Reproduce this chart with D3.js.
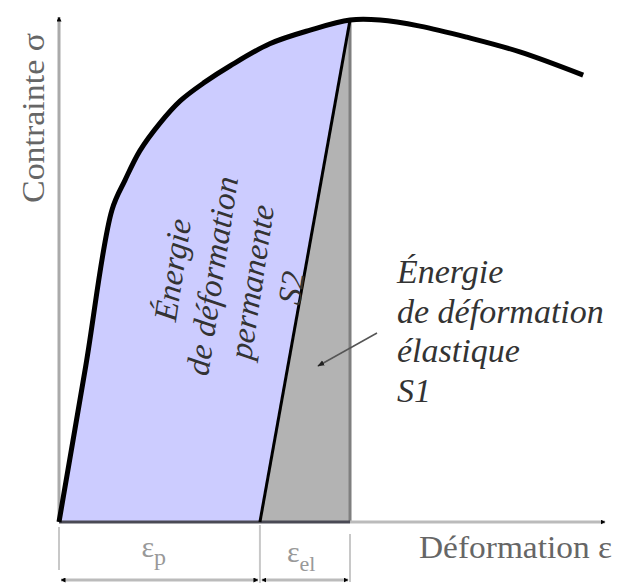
<!DOCTYPE html>
<html><head><meta charset="utf-8">
<script src="https://cdn.jsdelivr.net/npm/d3@7"></script>
<style>html,body{margin:0;padding:0;background:#fff;}svg{display:block;}</style>
</head><body>
<svg id="chart" width="633" height="587"></svg>
<script>
// ---- data (strain / stress, arbitrary units) ----
const strain = [0, 0.49, 0.97, 1.21, 1.48, 1.85, 2.22, 2.67, 3.13, 3.86, 4.60, 5.33, 5.88, 6.61, 7.47, 8.44, 9.60];
const stress = [0, 3.09, 6.18, 6.77, 7.35, 7.90, 8.34, 8.71, 9.03, 9.47, 9.74, 9.94, 9.94, 9.82, 9.60, 9.31, 8.85];
const unloadIndex = 11;          // point where unloading starts
const residualStrain = 3.68;     // εp (permanent strain)
const axisMax = [10, 10];
const plasticLabel = ["Énergie", "de déformation", "permanente", "S2"];
const elasticLabel = ["Énergie", "de déformation", "élastique", "S1"];
const xTitle = "Déformation ε";
const yTitle = "Contrainte σ";

const svg = d3.select("#chart");
const x = d3.scaleLinear().domain([0, axisMax[0]]).range([59, 605]);
const y = d3.scaleLinear().domain([0, axisMax[1]]).range([522, 17]);

const pts = strain.map((s, i) => [s, stress[i]]);
const loadPts = pts.slice(0, unloadIndex + 1);
const peak = pts[unloadIndex];

const defs = svg.append("defs");
function marker(id, orient) {
  defs.append("marker").attr("id", id).attr("viewBox", "0 0 10 10")
    .attr("refX", 9).attr("refY", 5).attr("markerWidth", 5).attr("markerHeight", 5)
    .attr("markerUnits", "userSpaceOnUse").attr("orient", orient)
    .append("path").attr("d", "M0,0L10,5L0,10z").attr("fill", "#000");
}
marker("arr", "auto");
marker("arr2", "auto-start-reverse");
defs.append("marker").attr("id", "arrS").attr("viewBox", "0 0 10 10")
  .attr("refX", 9).attr("refY", 5).attr("markerWidth", 7).attr("markerHeight", 7)
  .attr("markerUnits", "userSpaceOnUse").attr("orient", "auto")
  .append("path").attr("d", "M0,1L10,5L0,9z").attr("fill", "#222");

const line = d3.line().x(d => x(d[0])).y(d => y(d[1])).curve(d3.curveCatmullRom.alpha(0.5));

// plastic energy area (blue)
svg.append("path")
  .attr("d", line(loadPts) + `L${x(residualStrain)},${y(0)}L${x(0)},${y(0)}Z`)
  .attr("fill", "#ccccff").attr("stroke", "none");

// elastic energy triangle (gray)
svg.append("path")
  .attr("d", d3.line()([[x(residualStrain), y(0)], [x(peak[0]), y(peak[1])], [x(peak[0]), y(0)]]) + "Z")
  .attr("fill", "#b3b3b3");
svg.append("line").attr("x1", x(peak[0])).attr("x2", x(peak[0]))
  .attr("y1", y(peak[1])).attr("y2", y(0)).attr("stroke", "#7f7f7f").attr("stroke-width", 3);

// axes
svg.append("line").attr("x1", x(0)).attr("x2", x(0)).attr("y1", y(0)).attr("y2", y(axisMax[1]))
  .attr("stroke", "#aaa").attr("stroke-width", 3).attr("marker-end", "url(#arr)");
svg.append("line").attr("x1", x(peak[0])).attr("x2", x(axisMax[0])).attr("y1", y(0)).attr("y2", y(0))
  .attr("stroke", "#bbb").attr("stroke-width", 3).attr("marker-end", "url(#arr)");
svg.append("line").attr("x1", x(0)).attr("x2", x(peak[0])).attr("y1", y(0)).attr("y2", y(0))
  .attr("stroke", "#4a4a55").attr("stroke-width", 3);

// curve
svg.append("path").attr("d", line(pts)).attr("fill", "none")
  .attr("stroke", "#000").attr("stroke-width", 5).attr("stroke-linejoin", "round");
// unloading line
svg.append("line").attr("x1", x(peak[0])).attr("y1", y(peak[1])).attr("x2", x(residualStrain)).attr("y2", y(0))
  .attr("stroke", "#000").attr("stroke-width", 3);

// dimension lines
const dimY = 580;
[[0, 527, 570], [residualStrain, 525, 583], [peak[0], 534, 582]].forEach(([s, a, b]) => {
  svg.append("line").attr("x1", x(s)).attr("x2", x(s)).attr("y1", a).attr("y2", b)
    .attr("stroke", "#c8c8c8").attr("stroke-width", 2);
});
[[0, residualStrain], [residualStrain, peak[0]]].forEach(([a, b]) => {
  svg.append("line").attr("x1", x(a) + 2).attr("x2", x(b) - 2).attr("y1", dimY).attr("y2", dimY)
    .attr("stroke", "#bbb").attr("stroke-width", 3)
    .attr("marker-start", "url(#arr2)").attr("marker-end", "url(#arr)");
});

// epsilon labels
const epsP = svg.append("text").attr("x", (x(0) + x(residualStrain)) / 2 - 18).attr("y", 557)
  .attr("font-family", "Liberation Serif").attr("font-size", 30).attr("fill", "#999");
epsP.append("tspan").text("ε");
epsP.append("tspan").attr("font-size", 24).attr("dy", 8).text("p");
const epsE = svg.append("text").attr("x", (x(residualStrain) + x(peak[0])) / 2 - 18).attr("y", 562)
  .attr("font-family", "Liberation Serif").attr("font-size", 30).attr("fill", "#999");
epsE.append("tspan").text("ε");
epsE.append("tspan").attr("font-size", 22).attr("dy", 9).text("el");

// axis titles
svg.append("text").attr("x", 419).attr("y", 558)
  .attr("font-family", "Liberation Serif").attr("font-size", 32).attr("fill", "#666")
  .attr("textLength", 193).attr("lengthAdjust", "spacingAndGlyphs").text(xTitle);
svg.append("text").attr("transform", "translate(44,118) rotate(-90)").attr("text-anchor", "middle")
  .attr("font-family", "Liberation Serif").attr("font-size", 32).attr("fill", "#666")
  .attr("textLength", 170).attr("lengthAdjust", "spacingAndGlyphs").text(yTitle);

// rotated plastic label
const g = svg.append("g").attr("transform", "translate(233,279) rotate(-81.4)");
plasticLabel.forEach((t, i) => {
  g.append("text").attr("x", 0).attr("y", (i - 1.5) * 40 + 10).attr("text-anchor", "middle")
    .attr("font-family", "Liberation Serif").attr("font-style", "italic").attr("font-size", 33)
    .attr("fill", "#333").text(t);
});

// elastic label
elasticLabel.forEach((t, i) => {
  svg.append("text").attr("x", 397).attr("y", 283 + i * 39.5)
    .attr("font-family", "Liberation Serif").attr("font-style", "italic").attr("font-size", 34)
    .attr("fill", "#333").text(t);
});
// pointer arrow
svg.append("line").attr("x1", 377).attr("y1", 333).attr("x2", 318).attr("y2", 366)
  .attr("stroke", "#555").attr("stroke-width", 1.5).attr("marker-end", "url(#arrS)");
</script>
</body></html>
